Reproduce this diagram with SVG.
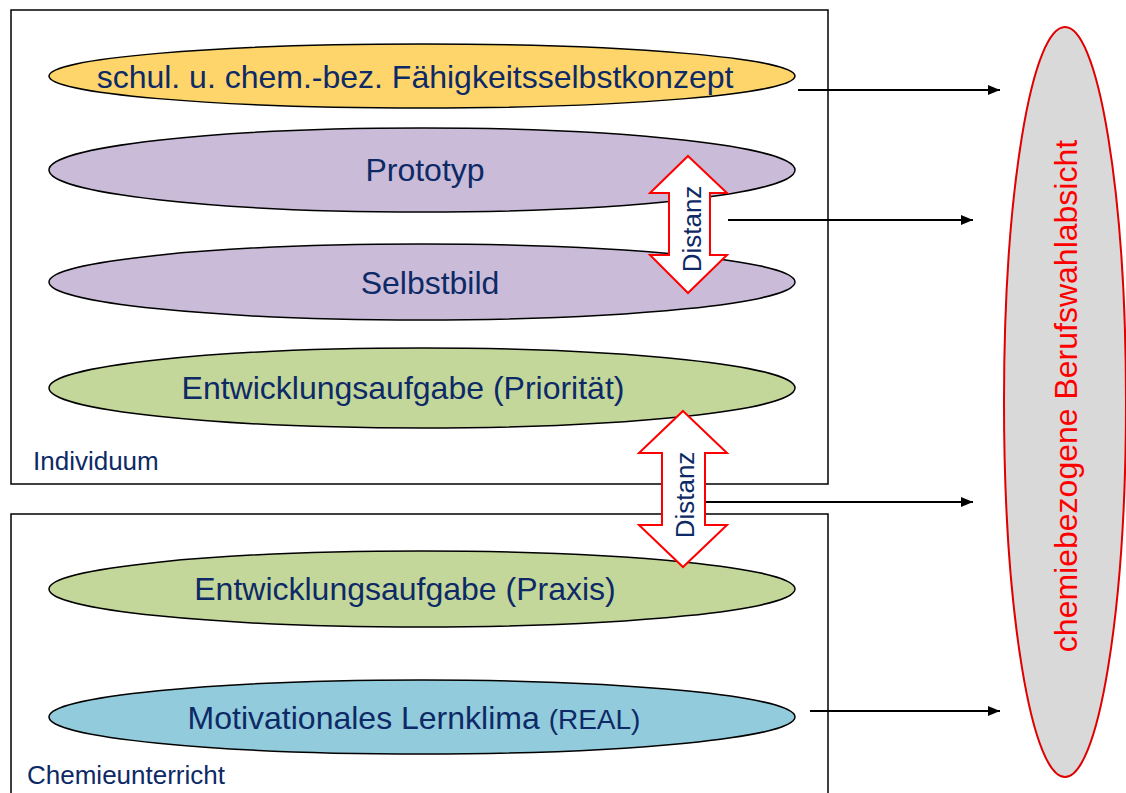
<svg xmlns="http://www.w3.org/2000/svg" width="1126" height="793" viewBox="0 0 1126 793">
<defs>
<style>
.box{fill:#fff;stroke:#000;stroke-width:1.5}
.ell{stroke:#000;stroke-width:1.5}
.t{font-family:"Liberation Sans",Arial,sans-serif;fill:#0D2A66;text-anchor:middle}
.lbl{font-family:"Liberation Sans",Arial,sans-serif;fill:#0D2A66;font-size:26px}
.con{stroke:#000;stroke-width:2;fill:none;marker-end:url(#ah)}
.dbl{fill:#fff;stroke:#f00;stroke-width:2}
</style>
<marker id="ah" viewBox="0 0 10 10" refX="10" refY="5" markerWidth="6" markerHeight="5" orient="auto" markerUnits="strokeWidth" preserveAspectRatio="none">
<path d="M0,0 L10,5 L0,10 z" fill="#000"/>
</marker>
</defs>
<rect width="1126" height="793" fill="#fff"/>
<g id="individuum">
<rect class="box" x="11" y="10" width="817" height="474"/>
<text class="lbl" x="33" y="470">Individuum</text>
</g>
<g id="chemieunterricht">
<rect class="box" x="11" y="514" width="817" height="290"/>
<text class="lbl" x="27" y="784">Chemieunterricht</text>
</g>
<g id="faehigkeit">
<ellipse class="ell" cx="422" cy="76" rx="373" ry="32" fill="#FDD56B"/>
<text class="t" x="415" y="88" font-size="32">schul. u. chem.-bez. Fähigkeitsselbstkonzept</text>
</g>
<g id="prototyp">
<ellipse class="ell" cx="422" cy="170" rx="373" ry="42" fill="#CABCD8"/>
<text class="t" x="425" y="181" font-size="32">Prototyp</text>
</g>
<g id="selbstbild">
<ellipse class="ell" cx="422" cy="282" rx="373" ry="38" fill="#CABCD8"/>
<text class="t" x="430" y="294" font-size="32">Selbstbild</text>
</g>
<g id="prioritaet">
<ellipse class="ell" cx="422" cy="388" rx="373" ry="40" fill="#C4D79B"/>
<text class="t" x="403" y="399" font-size="32">Entwicklungsaufgabe (Priorität)</text>
</g>
<g id="praxis">
<ellipse class="ell" cx="422" cy="589" rx="373" ry="38" fill="#C4D79B"/>
<text class="t" x="405" y="600" font-size="32">Entwicklungsaufgabe (Praxis)</text>
</g>
<g id="lernklima">
<ellipse class="ell" cx="422" cy="717" rx="373" ry="37" fill="#92CBDC"/>
<text class="t" x="414" y="729" font-size="32">Motivationales Lernklima <tspan font-size="28">(REAL)</tspan></text>
</g>
<g id="berufswahl">
<ellipse cx="1065" cy="402" rx="61" ry="375" fill="#D9D9D9" stroke="#E00000" stroke-width="2"/>
<text transform="translate(1077,396) rotate(-90)" font-family="Liberation Sans,Arial,sans-serif" font-size="32" fill="#f00" text-anchor="middle">chemiebezogene Berufswahlabsicht</text>
</g>
<g id="connectors">
<line class="con" x1="798" y1="90" x2="1000" y2="90"/>
<line class="con" x1="728" y1="220" x2="973" y2="220"/>
<line class="con" x1="705" y1="502" x2="973" y2="502"/>
<line class="con" x1="810" y1="711" x2="1000" y2="711"/>
</g>
<g id="distanz1">
<path class="dbl" d="M688,156 L727,193 L710,193 L710,255 L727,255 L688,293 L650,255 L669,255 L669,193 L650,193 Z"/>
<text class="t" transform="translate(701,229) rotate(-90)" font-size="26">Distanz</text>
</g>
<g id="distanz2">
<path class="dbl" d="M683,411 L727,453 L705,453 L705,525 L727,525 L683,567 L639,525 L662,525 L662,453 L639,453 Z" stroke-width="1.5"/>
<text class="t" transform="translate(694,495) rotate(-90)" font-size="26">Distanz</text>
</g>
</svg>
